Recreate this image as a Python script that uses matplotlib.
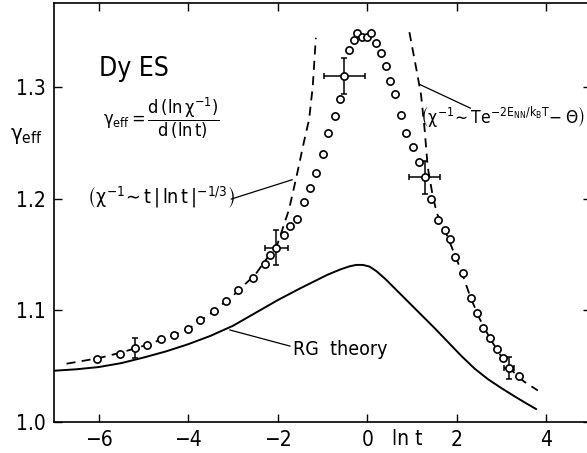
import numpy as np
import matplotlib
matplotlib.use("Agg")
import matplotlib.pyplot as plt

plt.rcParams['font.family'] = ['DejaVu Sans']
plt.rcParams['font.stretch'] = 'condensed'
plt.rcParams['mathtext.fontset'] = 'custom'
plt.rcParams['mathtext.rm'] = 'DejaVu Sans:stretch=condensed'
plt.rcParams['mathtext.it'] = 'DejaVu Sans:stretch=condensed'
plt.rcParams['mathtext.fallback'] = 'stixsans'

# measured gamma_eff (open circles)
lnt_data = [-6.04, -5.52, -5.18, -4.92, -4.60, -4.31, -4.00, -3.73, -3.42, -3.16,
            -2.89, -2.56, -2.29, -2.17, -2.03, -1.87, -1.72, -1.57, -1.42, -1.29,
            -1.15, -1.00, -0.87, -0.73, -0.61, -0.51, -0.41, -0.29, -0.22, -0.11,
            0.00, 0.08, 0.20, 0.30, 0.42, 0.50, 0.62, 0.76, 0.86, 1.02,
            1.15, 1.28, 1.43, 1.58, 1.73, 1.84, 1.95, 2.14, 2.31, 2.45,
            2.59, 2.75, 2.90, 3.04, 3.17, 3.40]
gamma_data = [1.056, 1.061, 1.066, 1.069, 1.074, 1.078, 1.083, 1.091, 1.099, 1.108,
              1.118, 1.129, 1.141, 1.149, 1.156, 1.167, 1.175, 1.182, 1.197, 1.209,
              1.223, 1.240, 1.259, 1.274, 1.289, 1.310, 1.333, 1.342, 1.348, 1.345,
              1.345, 1.348, 1.339, 1.330, 1.319, 1.305, 1.294, 1.275, 1.259, 1.246,
              1.233, 1.219, 1.200, 1.181, 1.172, 1.164, 1.148, 1.133, 1.111, 1.097,
              1.084, 1.075, 1.065, 1.057, 1.048, 1.041]

# error bars on selected points
err_x = [-5.18, -2.03, -0.51, 1.28, 3.17]
err_y = [1.066, 1.156, 1.310, 1.219, 1.048]
err_dx = [0.0, 0.25, 0.46, 0.35, 0.11]
err_dy = [0.009, 0.016, 0.016, 0.015, 0.010]

# low-T asymptote  chi^-1 ~ t|ln t|^-1/3
low_x = [-6.72, -6.0, -5.5, -5.0, -4.5, -4.0, -3.5, -3.0, -2.5, -2.0,
         -1.75, -1.58, -1.42, -1.30, -1.22, -1.15]
low_y = [1.052, 1.057, 1.062, 1.068, 1.075, 1.083, 1.097, 1.113, 1.132, 1.160,
         1.190, 1.220, 1.250, 1.271, 1.300, 1.344]

# high-T asymptote
high_x = [0.94, 1.10, 1.20, 1.28, 1.35, 1.45, 1.55, 1.73, 1.90, 2.10,
          2.30, 2.50, 2.75, 3.00, 3.20, 3.50, 3.81]
high_y = [1.349, 1.315, 1.293, 1.262, 1.228, 1.205, 1.187, 1.172, 1.155, 1.135,
          1.112, 1.093, 1.074, 1.058, 1.047, 1.036, 1.028]

# RG theory
rg_x = [-7.0, -6.5, -6.0, -5.5, -5.0, -4.5, -4.0, -3.5, -3.0, -2.5,
        -2.0, -1.5, -1.2, -0.9, -0.6, -0.4, -0.25, -0.1, 0.05, 0.2,
        0.4, 0.6, 0.9, 1.2, 1.5, 1.8, 2.1, 2.4, 2.7, 3.0,
        3.3, 3.55, 3.77]
rg_y = [1.0457, 1.0470, 1.0490, 1.0525, 1.0575, 1.0630, 1.0695, 1.0770, 1.0860, 1.0975,
        1.1090, 1.1195, 1.1255, 1.1315, 1.1365, 1.1392, 1.1405, 1.1405, 1.1390, 1.1350,
        1.1280, 1.1200, 1.1080, 1.0960, 1.0840, 1.0715, 1.0590, 1.0475, 1.0380, 1.0300,
        1.0225, 1.0165, 1.0114]

x_ticks = [-6, -4, -2, 0, 2, 4]
y_ticks = [1.0, 1.1, 1.2, 1.3]

fig = plt.figure(figsize=(5.87, 4.53), dpi=100)
ax = fig.add_axes([0.092, 0.069, 0.915, 0.924])

ax.plot(rg_x, rg_y, color='black', lw=1.4, zorder=2)
ax.plot(low_x, low_y, color='black', lw=1.3, ls=(0, (5, 3.5)), zorder=2)
ax.plot(high_x, high_y, color='black', lw=1.3, ls=(0, (5, 3.5)), zorder=2)

ax.errorbar(err_x, err_y, xerr=err_dx, yerr=err_dy, fmt='none', ecolor='black',
            elinewidth=1.1, capsize=2.5, capthick=1.1, zorder=3)
ax.plot(lnt_data, gamma_data, ls='none', marker='o', ms=5.2, mfc='white',
        mec='black', mew=1.2, zorder=4)

# leader lines
ax.plot([-3.04, -1.68], [1.1995, 1.2168], color='black', lw=0.9)
ax.plot([1.18, 2.30], [1.302, 1.281], color='black', lw=0.9)
ax.plot([-3.07, -1.73], [1.0822, 1.0678], color='black', lw=0.9)

ax.text(-6.0, 1.31, 'Dy ES', fontsize=19, ha='left', va='baseline')
ax.text(-4.61, 1.2724,
        r'$\gamma_{\rm eff} = \dfrac{\rm d\,(ln\,\chi^{-1})}{\rm d\,(ln\,t)}$',
        fontsize=13, ha='center', va='center')
ax.text(-4.61, 1.2006, r'$\left(\chi^{-1}\!\sim t\,|\,\ln t\,|^{-1/3}\right)$',
        fontsize=14, ha='center', va='center')
ax.text(4.86, 1.2733, r'$\left(\chi^{-1}\!\sim T e^{-2E_{NN}/k_BT}\!-\Theta\right)$',
        fontsize=12.5, ha='right', va='center')
ax.text(-1.67, 1.0598, 'RG  theory', fontsize=14, ha='left', va='baseline')

ax.set_xlim(-7, 5)
ax.set_ylim(1.0, 1.375)
ax.set_xticks(x_ticks)
ax.set_xticklabels(['\u22126', '\u22124', '\u22122', '0', '2', '4'])
ax.set_yticks(y_ticks)
ax.set_yticklabels(['1.0', '1.1', '1.2', '1.3'])
ax.tick_params(direction='in', length=6, width=1, labelsize=15, pad=6,
               top=True, right=True)
ax.text(0.9, -0.018, 'ln t', transform=ax.get_xaxis_transform(), fontsize=15,
        ha='center', va='top')
fig.text(0.045, 0.7, r'$\gamma_{\rm eff}$', fontsize=16, ha='center', va='center')

for s in ax.spines.values():
    s.set_linewidth(1.2)

fig.savefig('out.png', dpi=100)
